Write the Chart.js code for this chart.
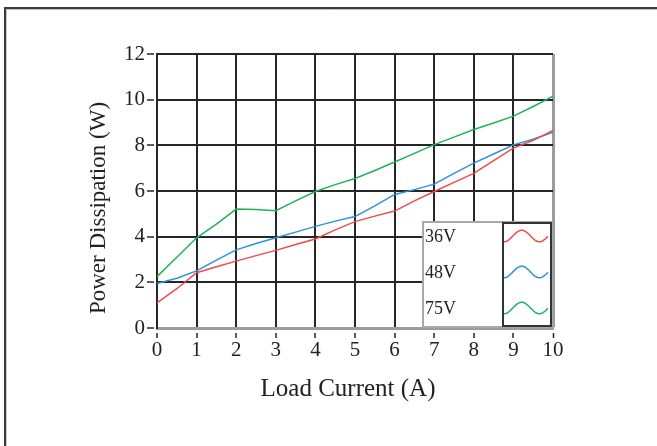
<!DOCTYPE html>
<html>
<head>
<meta charset="utf-8">
<script src="https://cdn.jsdelivr.net/npm/chart.js@4.4.1/dist/chart.umd.min.js"></script>
<style>
  html, body { margin: 0; padding: 0; background: #fff; }
  canvas { display: block; }
</style>
</head>
<body>
<canvas id="chart" width="657" height="446"></canvas>
<script>
// Load current (A) sample points
const loadCurrent = [0, 0.5, 1, 1.5, 2, 2.5, 3, 3.5, 4, 4.5, 5, 5.5, 6, 6.5, 7, 7.5, 8, 8.5, 9, 9.5, 10];

// Power dissipation (W) at each input voltage
const seriesNames = ['36V', '48V', '75V'];
const dissipation36V = [1.10, 1.72, 2.42, 2.68, 2.93, 3.17, 3.40, 3.66, 3.90, 4.30, 4.66, 4.90, 5.12, 5.57, 5.98, 6.38, 6.77, 7.33, 7.88, 8.22, 8.65];
const dissipation48V = [1.95, 2.18, 2.50, 2.97, 3.42, 3.70, 3.95, 4.20, 4.45, 4.68, 4.88, 5.35, 5.85, 6.06, 6.30, 6.77, 7.22, 7.62, 8.02, 8.27, 8.58];
const dissipation75V = [2.25, 3.10, 3.95, 4.55, 5.21, 5.19, 5.14, 5.57, 5.98, 6.28, 6.55, 6.90, 7.27, 7.65, 8.03, 8.36, 8.69, 8.98, 9.28, 9.70, 10.15];

// Axis tick labels and titles
const xTickValues = [0, 1, 2, 3, 4, 5, 6, 7, 8, 9, 10];
const yTickValues = [0, 2, 4, 6, 8, 10, 12];
const xTitle = 'Load Current (A)';
const yTitle = 'Power Dissipation (W)';

const seriesColors = ['#ef4b4b', '#2b93d8', '#1fb35c'];
const FONT = "'Liberation Serif', 'Times New Roman', serif";
const INK = '#262626';
const EDGE = '#9c9c9c';

function toPoints(ys) {
  return loadCurrent.map((x, i) => ({ x: x, y: ys[i] }));
}

// Page frame, axis titles and the key box drawn inside the plot
const frameAndKey = {
  id: 'frameAndKey',
  beforeDraw(chart) {
    const ctx = chart.ctx;
    ctx.save();
    ctx.fillStyle = '#ffffff';
    ctx.fillRect(0, 0, chart.width, chart.height);
    ctx.strokeStyle = '#3c3c3c';
    ctx.lineWidth = 2;
    ctx.beginPath();
    ctx.moveTo(5, chart.height);
    ctx.lineTo(5, 8);
    ctx.lineTo(chart.width, 8);
    ctx.stroke();
    ctx.strokeStyle = '#c4c4c4';
    ctx.lineWidth = 1;
    ctx.beginPath();
    ctx.moveTo(6.5, chart.height);
    ctx.lineTo(6.5, 9.5);
    ctx.lineTo(chart.width, 9.5);
    ctx.stroke();
    ctx.restore();
  },
  afterDraw(chart) {
    const ctx = chart.ctx;
    const ca = chart.chartArea;

    // axis titles
    ctx.save();
    ctx.fillStyle = '#222222';
    ctx.textAlign = 'center';
    ctx.textBaseline = 'middle';
    ctx.font = '25px ' + FONT;
    ctx.fillText(xTitle, ca.left + 191, ca.bottom + 61);
    ctx.translate(ca.left - 58, ca.top + 154);
    ctx.rotate(-Math.PI / 2);
    ctx.font = '23px ' + FONT;
    ctx.fillText(yTitle, 0, 0);
    ctx.restore();

    // key
    const boxW = 131, boxH = 107;
    const bx = ca.right - boxW, by = ca.bottom - boxH;
    ctx.save();
    ctx.fillStyle = '#ffffff';
    ctx.fillRect(bx, by, boxW, boxH);
    ctx.strokeStyle = '#a8a8a8';
    ctx.lineWidth = 2;
    ctx.strokeRect(bx + 1, by + 1, boxW - 2, boxH - 2);
    const sx = bx + 81, sy = by + 2, sw = 48, sh = boxH - 4;
    ctx.strokeStyle = '#333333';
    ctx.lineWidth = 2;
    ctx.strokeRect(sx, sy, sw, sh);
    ctx.font = '18px ' + FONT;
    ctx.fillStyle = '#222222';
    ctx.textAlign = 'left';
    ctx.textBaseline = 'middle';
    chart.data.datasets.forEach((ds, i) => {
      const cy = by + 15 + i * 36;
      ctx.fillText(ds.label, bx + 3, cy + 1);
      ctx.strokeStyle = ds.borderColor;
      ctx.lineWidth = 1.5;
      ctx.beginPath();
      for (let k = 0; k <= 44; k++) {
        const px = sx + 1 + k;
        const py = cy + 5.8 * Math.cos(2 * Math.PI * k / 35.4);
        if (k === 0) ctx.moveTo(px, py); else ctx.lineTo(px, py);
      }
      ctx.stroke();
    });
    ctx.restore();
  }
};

new Chart(document.getElementById('chart'), {
  type: 'line',
  data: {
    datasets: [
      { label: seriesNames[0], data: toPoints(dissipation36V), borderColor: seriesColors[0] },
      { label: seriesNames[1], data: toPoints(dissipation48V), borderColor: seriesColors[1] },
      { label: seriesNames[2], data: toPoints(dissipation75V), borderColor: seriesColors[2] }
    ].map(d => Object.assign(d, { borderWidth: 1.5, pointRadius: 0, tension: 0, fill: false }))
  },
  options: {
    responsive: false,
    animation: false,
    devicePixelRatio: 1,
    layout: { padding: { left: 0, right: 104, top: 54, bottom: 0 } },
    plugins: {
      legend: { display: false },
      tooltip: { enabled: false }
    },
    scales: {
      x: {
        type: 'linear',
        min: 0,
        max: 10,
        afterBuildTicks: s => { s.ticks = xTickValues.map(v => ({ value: v })); },
        afterFit: s => { s.height = 118; },
        grid: {
          color: c => (c.tick && c.tick.value === 10) ? EDGE : INK,
          lineWidth: c => (c.tick && c.tick.value === 10) ? 3 : 2,
          tickColor: INK,
          tickWidth: 1.5,
          tickLength: 10,
          tickBorderDash: [0, 3, 7, 100]
        },
        border: { color: EDGE, width: 3 },
        ticks: {
          color: '#222',
          font: { family: FONT, size: 21 },
          padding: 0,
          maxRotation: 0,
          autoSkip: false
        },
        title: { display: false }
      },
      y: {
        type: 'linear',
        min: 0,
        max: 12,
        afterBuildTicks: s => { s.ticks = yTickValues.map(v => ({ value: v })); },
        afterFit: s => { s.width = 157; },
        grid: {
          color: c => (c.tick && c.tick.value === 0) ? 'rgba(0,0,0,0)' : INK,
          lineWidth: 2,
          tickColor: INK,
          tickWidth: 1.5,
          tickLength: 10,
          tickBorderDash: [7, 100]
        },
        border: { color: INK, width: 2 },
        ticks: {
          color: '#222',
          font: { family: FONT, size: 21 },
          padding: 2,
          autoSkip: false
        },
        title: { display: false }
      }
    }
  },
  plugins: [frameAndKey]
});
</script>
</body>
</html>
